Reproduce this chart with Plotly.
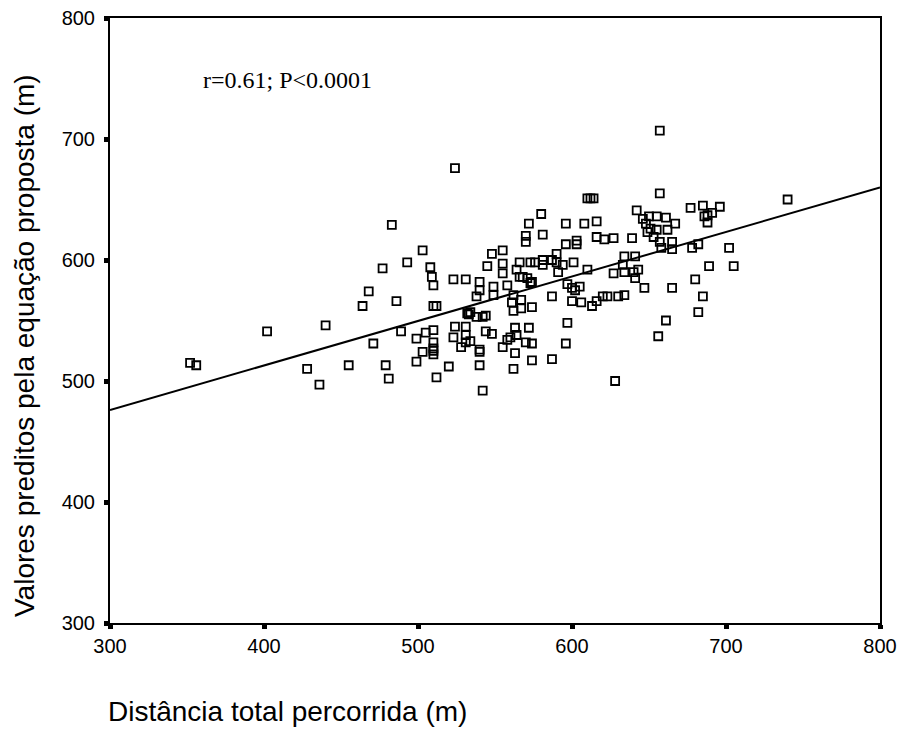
import plotly.graph_objects as go

# Observed data: distance walked (x) vs predicted distance (y)
dist_total = [352, 356, 402, 428, 436, 440, 455, 464, 468, 471, 477, 479, 481, 483, 486, 489, 493,
              499, 499, 503, 503, 505, 508, 509, 510, 510, 512, 510, 510, 510, 510, 510, 512, 520,
              523, 524, 524, 523, 528, 531, 531, 531, 531, 534, 534, 532, 533, 538, 540, 538, 540,
              542, 544, 544, 540, 540, 540, 542, 548, 549, 549, 545, 548, 555, 558, 560, 558, 555,
              555, 555, 562, 561, 562, 567, 567, 563, 564, 563, 562, 564, 566, 568, 571, 574, 566,
              570, 570, 572, 573, 576, 581, 581, 581, 580, 587, 590, 594, 590, 573, 572, 574, 570,
              574, 574, 587, 591, 597, 600, 602, 605, 597, 596, 587, 596, 603, 603, 596, 601, 608,
              610, 612, 614, 610, 600, 606, 613, 616, 620, 623, 630, 634, 616, 616, 621, 627, 639,
              627, 634, 640, 641, 643, 634, 641, 633, 642, 646, 650, 655, 661, 648, 667, 651, 655,
              662, 649, 653, 657, 665, 658, 665, 657, 657, 647, 665, 628, 656, 661, 678, 682, 677,
              685, 696, 688, 691, 686, 688, 680, 682, 685, 689, 702, 705, 740]
pred_eq = [515, 513, 541, 510, 497, 546, 513, 562, 574, 531, 593, 513, 502, 629, 566, 541, 598,
           516, 535, 608, 524, 540, 594, 586, 579, 562, 562, 542, 532, 527, 525, 522, 503, 512,
           584, 676, 545, 536, 528, 584, 545, 538, 532, 533, 557, 556, 555, 570, 575, 553, 582,
           553, 554, 541, 526, 524, 513, 492, 539, 571, 578, 595, 605, 528, 534, 536, 579, 589,
           608, 597, 571, 565, 558, 567, 560, 544, 538, 523, 510, 592, 586, 586, 585, 582, 598,
           620, 615, 630, 598, 598, 600, 596, 621, 638, 600, 598, 596, 605, 581, 544, 561, 532,
           531, 517, 570, 590, 580, 577, 575, 578, 548, 531, 518, 613, 616, 613, 630, 598, 630,
           651, 651, 651, 592, 566, 565, 562, 566, 570, 570, 570, 571, 632, 619, 617, 618, 618,
           589, 590, 590, 585, 592, 603, 603, 596, 641, 634, 636, 636, 635, 630, 630, 626, 625,
           625, 623, 619, 615, 615, 610, 609, 655, 707, 577, 577, 500, 537, 550, 610, 613, 643,
           645, 644, 637, 639, 636, 631, 584, 557, 570, 595, 610, 595, 650]

# Regression line (as drawn)
fit_x = [300, 800]
fit_y = [476, 660]

x_ticks = [300, 400, 500, 600, 700, 800]
y_ticks = [300, 400, 500, 600, 700, 800]

SANS = "Arial, Liberation Sans, sans-serif"
SERIF = "Times New Roman, Liberation Serif, serif"

fig = go.Figure()
fig.add_trace(go.Scatter(
    x=fit_x, y=fit_y, mode="lines",
    line=dict(color="black", width=2), showlegend=False, hoverinfo="skip"))
fig.add_trace(go.Scatter(
    x=dist_total, y=pred_eq, mode="markers",
    marker=dict(symbol="square-open", size=8, color="black", line=dict(width=1.8, color="black")),
    showlegend=False))

axis_common = dict(
    showgrid=False, zeroline=False, showline=True, linecolor="black", linewidth=2,
    mirror=True, ticks="outside", ticklen=4, tickwidth=5, tickcolor="black",
    tickfont=dict(family=SANS, size=20, color="black"), automargin=False,
    ticklabeloverflow="allow",
)
fig.update_xaxes(range=[300, 800], tickvals=x_ticks, ticklabelstandoff=0, **axis_common)
fig.update_yaxes(range=[300, 800], tickvals=y_ticks, ticklabelstandoff=5, **axis_common)

fig.add_annotation(text="r=0.61; P<0.0001", xref="x", yref="y", x=359, y=749,
                   xanchor="left", yanchor="middle", showarrow=False,
                   font=dict(family=SERIF, size=24, color="black"))
fig.add_annotation(text="Distância total percorrida (m)", xref="paper", yref="paper",
                   x=-4 / 770, y=(623 - 711) / 605, xanchor="left", yanchor="middle", showarrow=False,
                   font=dict(family=SANS, size=28, color="black"))
fig.add_annotation(text="Valores preditos pela equação proposta (m)", xref="paper", yref="paper",
                   x=(24 - 110) / 770, y=(623 - 346) / 605, xanchor="center", yanchor="middle",
                   textangle=-90, showarrow=False,
                   font=dict(family=SANS, size=28, color="black"))

fig.update_layout(
    width=901, height=730,
    margin=dict(l=110, r=21, t=18, b=107, pad=0),
    plot_bgcolor="white", paper_bgcolor="white",
)
# Remove the default page margin so the figure sits at the window's top-left corner.
fig.write_html("out.html",
               config={"displayModeBar": False},
               post_script="document.body.style.margin='0';document.body.style.overflow='hidden';")
